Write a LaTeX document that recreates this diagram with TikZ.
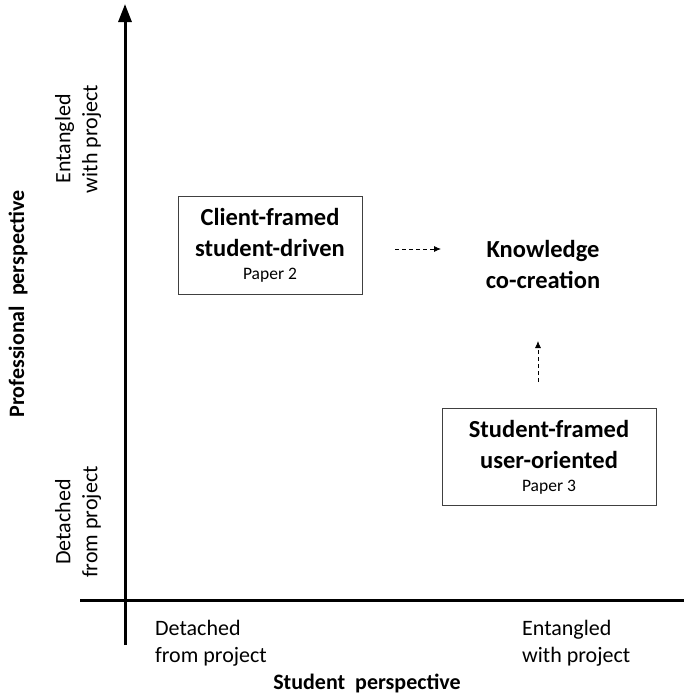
\documentclass[tikz,border=0pt]{standalone}
\usepackage{fontspec}
\setmainfont{Carlito}
\usetikzlibrary{arrows.meta}

\newcommand{\boxhead}{\bfseries\fontsize{24.5}{31}\selectfont}
\newcommand{\boxpaper}{\mdseries\fontsize{17.5}{26}\selectfont}

\begin{document}
\begin{tikzpicture}[x=1pt,y=-1pt,
  quadbox/.style={draw=black!75,line width=1pt,minimum width=184pt,minimum height=98pt,align=center,inner sep=0pt,font=\boxhead},
  axislabel/.style={font=\fontsize{22}{27}\selectfont,align=left,inner sep=0pt},
  axistitle/.style={font=\bfseries\fontsize{22}{25}\selectfont,inner sep=0pt},
  movearrow/.style={line width=0.8pt,dash pattern=on 4pt off 3pt,-{Latex[length=7pt,width=6pt]}}]
\useasboundingbox (0,0) rectangle (684,694);
% axes
\draw[line width=3pt,-{Triangle[length=18pt,width=13pt]}] (125,645) -- (125,4);
\draw[line width=3pt] (80,600) -- (684,600);
% quadrant boxes
\node[quadbox] (cf) at (270,245) {Client-framed\\student-driven\\[-8pt]\boxpaper Paper 2};
\node[quadbox,minimum width=214pt,minimum height=97pt] (sf) at (549,457) {Student-framed\\user-oriented\\[-8pt]\boxpaper Paper 3};
\node[align=center,font=\boxhead] (kc) at (543,264) {Knowledge\\co-creation};
% movement arrows
\coordinate (h1) at (395,249);
\coordinate (h2) at (441,249);
\coordinate (v1) at (538,382);
\coordinate (v2) at (538,341);
\draw[movearrow] (h1) -- (h2);
\draw[movearrow] (v1) -- (v2);
% professional axis labels
\node[axislabel,align=center,rotate=90] (pe) at (78,139) {Entangled\\with project};
\node[axislabel,align=center,rotate=90] (pd) at (78,522) {Detached\\from project};
\node[axistitle,rotate=90] (pt) at (18,304) {Professional\ \ perspective};
% student axis labels
\node[axislabel,anchor=north west] (sd) at (155,620) {Detached\\from project};
\node[axislabel,anchor=north west] (se) at (522,620) {Entangled\\with project};
\node[axistitle] (st) at (367,683) {Student\ \ perspective};
\end{tikzpicture}
\end{document}
